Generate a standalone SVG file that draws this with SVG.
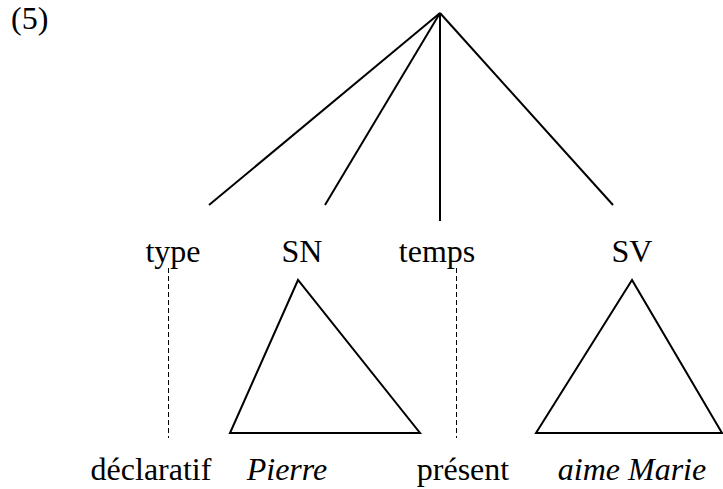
<svg xmlns="http://www.w3.org/2000/svg" width="723" height="489" viewBox="0 0 723 489">
<style>
text{font-family:"Liberation Serif","Times New Roman",serif;font-size:32px;fill:#000}
.c{text-anchor:middle}
.i{font-style:italic}
.l{stroke:#000;stroke-width:2;fill:none}
.d{stroke:#000;stroke-width:1;stroke-dasharray:5,3;fill:none}
</style>
<rect width="723" height="489" fill="#fff"/>
<text x="11" y="29">(5)</text>
<g id="connectors">
<line class="l" x1="440" y1="13" x2="209" y2="205"/>
<line class="l" x1="440" y1="13" x2="325" y2="205"/>
<line class="l" x1="440" y1="13" x2="440" y2="221"/>
<line class="l" x1="440" y1="13" x2="613" y2="205"/>
<line class="d" x1="168.5" y1="268" x2="168.5" y2="438"/>
<line class="d" x1="456.5" y1="268" x2="456.5" y2="438"/>
</g>
<g id="type"><text class="c" x="173" y="262">type</text></g>
<g id="SN"><text class="c" x="302" y="262">SN</text>
<polygon class="l" points="298,280 230,433 420,433"/></g>
<g id="temps"><text class="c" x="437" y="262">temps</text></g>
<g id="SV"><text class="c" x="632" y="262">SV</text>
<polygon class="l" points="632,280 536,433 722,433"/></g>
<g id="declaratif"><text class="c" x="151" y="480">déclaratif</text></g>
<g id="Pierre"><text class="c i" x="287" y="480">Pierre</text></g>
<g id="present"><text class="c" x="463" y="480">présent</text></g>
<g id="aimeMarie"><text class="c i" x="632" y="480">aime Marie</text></g>
</svg>
